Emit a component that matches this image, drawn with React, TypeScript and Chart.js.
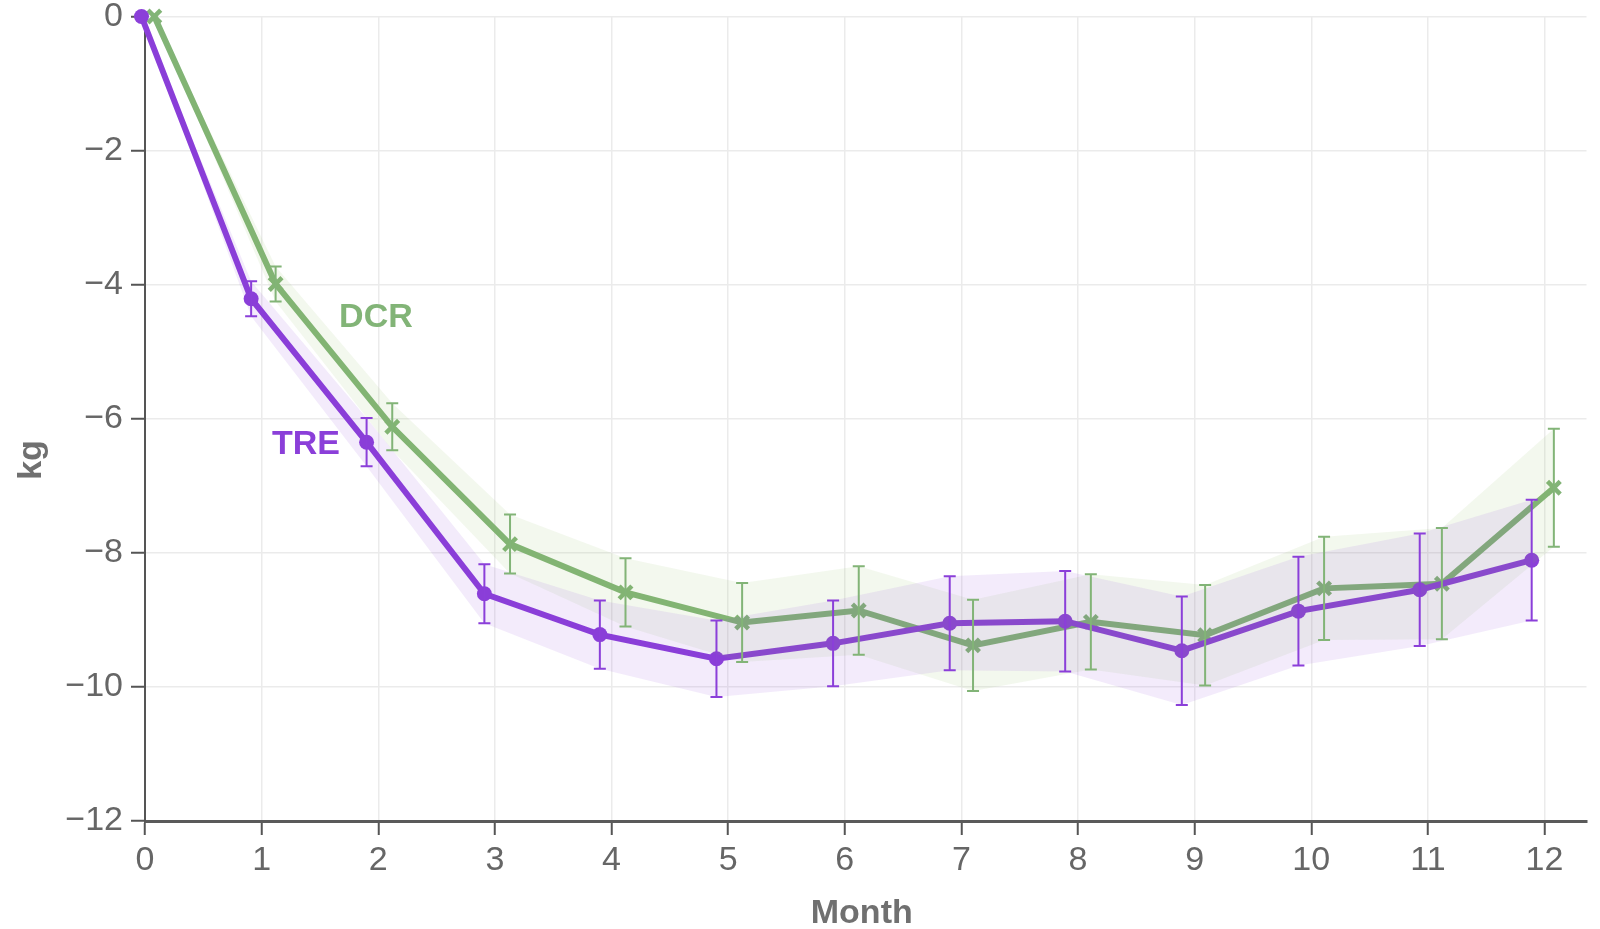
import React, { useEffect, useRef } from "react";
import { Chart, registerables } from "chart.js";

Chart.register(...registerables);

// ---- data ----
const monthTicks = [0, 1, 2, 3, 4, 5, 6, 7, 8, 9, 10, 11, 12];
const kgTicks = [0, -2, -4, -6, -8, -10, -12];

const treX = [-0.03, 0.91, 1.9, 2.91, 3.9, 4.9, 5.9, 6.9, 7.89, 8.89, 9.89, 10.93, 11.89];
const treY = [0, -4.21, -6.35, -8.61, -9.22, -9.58, -9.35, -9.05, -9.02, -9.46, -8.87, -8.55, -8.11];
const treErr = [0, 0.26, 0.36, 0.44, 0.51, 0.57, 0.64, 0.7, 0.75, 0.81, 0.81, 0.84, 0.9];

const dcrX = [0.08, 1.12, 2.12, 3.13, 4.12, 5.12, 6.12, 7.1, 8.11, 9.09, 10.11, 11.12, 12.08];
const dcrY = [0, -3.99, -6.12, -7.87, -8.59, -9.04, -8.86, -9.38, -9.03, -9.23, -8.53, -8.46, -7.03];
const dcrErr = [0, 0.26, 0.35, 0.44, 0.51, 0.59, 0.66, 0.68, 0.71, 0.75, 0.77, 0.83, 0.88];

const TRE_COLOR = "#8b3fd9";
const DCR_COLOR = "#82b477";
const FONT = "'Liberation Sans', Arial, sans-serif";

const pts = (xs: number[], ys: number[]) => xs.map((x, i) => ({ x, y: ys[i] }));
const shifted = (xs: number[], ys: number[], e: number[], s: number) =>
  xs.map((x, i) => ({ x, y: ys[i] + s * e[i] }));

const fmt = (v: number) => (v < 0 ? "\u2212" + Math.abs(v) : String(v));

const errorBarPlugin = {
  id: "errorBars",
  afterDatasetsDraw(chart: any) {
    const { ctx, scales } = chart;
    const xs = scales.x;
    const ys = scales.y;
    const series = [
      { x: treX, y: treY, e: treErr, c: TRE_COLOR },
      { x: dcrX, y: dcrY, e: dcrErr, c: DCR_COLOR },
    ];
    ctx.save();
    for (const s of series) {
      ctx.strokeStyle = s.c;
      ctx.lineWidth = 2;
      s.x.forEach((xv, i) => {
        if (!s.e[i]) return;
        const px = xs.getPixelForValue(xv);
        const top = ys.getPixelForValue(s.y[i] + s.e[i]);
        const bot = ys.getPixelForValue(s.y[i] - s.e[i]);
        ctx.beginPath();
        ctx.moveTo(px, top);
        ctx.lineTo(px, bot);
        ctx.moveTo(px - 6, top);
        ctx.lineTo(px + 6, top);
        ctx.moveTo(px - 6, bot);
        ctx.lineTo(px + 6, bot);
        ctx.stroke();
      });
    }
    ctx.restore();
  },
  afterDraw(chart: any) {
    const { ctx, scales, chartArea } = chart;
    ctx.save();
    ctx.textAlign = "center";
    ctx.textBaseline = "middle";
    ctx.font = `bold 34px ${FONT}`;
    ctx.fillStyle = DCR_COLOR;
    ctx.fillText("DCR", scales.x.getPixelForValue(1.98), scales.y.getPixelForValue(-4.49));
    ctx.fillStyle = TRE_COLOR;
    ctx.fillText("TRE", scales.x.getPixelForValue(1.38), scales.y.getPixelForValue(-6.39));
    ctx.fillStyle = "#707070";
    ctx.font = `bold 34px ${FONT}`;
    ctx.fillText("Month", (chartArea.left + chartArea.right) / 2 - 4, 914);
    ctx.translate(32, 460);
    ctx.rotate(-Math.PI / 2);
    ctx.fillText("kg", 0, 0);
    ctx.restore();
  },
};

export default function App() {
  const ref = useRef<HTMLCanvasElement | null>(null);

  useEffect(() => {
    if (!ref.current) return;
    const chart = new Chart(ref.current, {
      type: "line",
      data: {
        datasets: [
          {
            label: "TRE upper",
            data: shifted(treX, treY, treErr, 1),
            borderWidth: 0,
            pointRadius: 0,
            fill: false,
            backgroundColor: "rgba(139,63,217,0.1)",
            borderColor: "rgba(0,0,0,0)",
          },
          {
            label: "TRE lower",
            data: shifted(treX, treY, treErr, -1),
            borderWidth: 0,
            pointRadius: 0,
            fill: "-1",
            backgroundColor: "rgba(139,63,217,0.1)",
            borderColor: "rgba(0,0,0,0)",
          },
          {
            label: "DCR upper",
            data: shifted(dcrX, dcrY, dcrErr, 1),
            borderWidth: 0,
            pointRadius: 0,
            fill: false,
            backgroundColor: "rgba(140,185,90,0.1)",
            borderColor: "rgba(0,0,0,0)",
          },
          {
            label: "DCR lower",
            data: shifted(dcrX, dcrY, dcrErr, -1),
            borderWidth: 0,
            pointRadius: 0,
            fill: "-1",
            backgroundColor: "rgba(140,185,90,0.1)",
            borderColor: "rgba(0,0,0,0)",
          },
          {
            label: "TRE",
            data: pts(treX, treY),
            borderColor: TRE_COLOR,
            backgroundColor: TRE_COLOR,
            borderWidth: 6,
            pointRadius: 7.5,
            pointBorderWidth: 0,
            pointStyle: "circle",
            fill: false,
            clip: false,
          } as any,
          {
            label: "DCR",
            data: pts(dcrX, dcrY),
            borderColor: DCR_COLOR,
            backgroundColor: DCR_COLOR,
            borderWidth: 6,
            pointRadius: 9,
            pointBorderWidth: 4.5,
            pointStyle: "crossRot",
            fill: false,
            clip: false,
          } as any,
        ],
      },
      options: {
        responsive: false,
        animation: false,
        devicePixelRatio: 1,
        layout: { padding: { top: 16.5, right: 6, left: 0, bottom: 0 } },
        plugins: {
          legend: { display: false },
          tooltip: { enabled: false },
        },
        elements: { line: { tension: 0 } },
        scales: {
          x: {
            type: "linear",
            min: 0,
            max: 12.36,
            afterBuildTicks: (scale: any) => {
              scale.ticks = monthTicks.map((v) => ({ value: v }));
            },
            afterFit: (scale: any) => {
              scale.height = 108;
              scale.paddingLeft = 0;
              scale.paddingRight = 0;
            },
            grid: {
              color: "#ebebeb",
              lineWidth: 1.5,
              tickLength: 14,
              tickColor: "#555",
              tickWidth: 2,
            },
            border: { color: "#5a5a5a", width: 3 },
            ticks: {
              color: "#666",
              font: { family: FONT, size: 34 },
              padding: 5,
              maxRotation: 0,
              autoSkip: false,
              callback: (v: any) => String(v),
            },
          },
          y: {
            type: "linear",
            min: -12,
            max: 0,
            afterBuildTicks: (scale: any) => {
              scale.ticks = kgTicks.map((v) => ({ value: v }));
            },
            afterFit: (scale: any) => {
              scale.width = 145;
              scale.paddingTop = 0;
              scale.paddingBottom = 0;
            },
            grid: {
              color: "#ebebeb",
              lineWidth: 1.5,
              tickLength: 14,
              tickColor: "#555",
              tickWidth: 2,
            },
            border: { color: "#555", width: 2 },
            ticks: {
              color: "#666",
              font: { family: FONT, size: 34 },
              padding: 8,
              autoSkip: false,
              callback: (v: any) => fmt(Number(v)),
            },
          },
        },
      },
      plugins: [errorBarPlugin],
    });
    return () => chart.destroy();
  }, []);

  return (
    <div style={{ position: "absolute", left: 0, top: 0, width: 1600, height: 929, background: "#fff" }}>
      <canvas ref={ref} width={1600} height={929} style={{ display: "block" }} />
    </div>
  );
}
